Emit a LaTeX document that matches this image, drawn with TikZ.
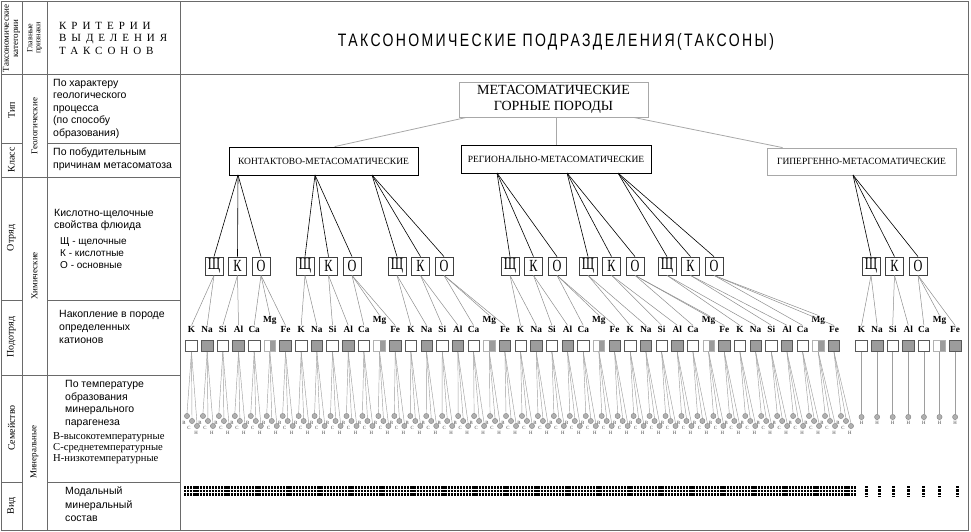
\documentclass[tikz,border=0pt]{standalone}
\usepackage{fontspec}
\setmainfont{Liberation Serif}
\setsansfont{Liberation Sans}
\newfontfamily\titlefont[FakeStretch=0.78,LetterSpace=13]{Liberation Sans}
\newfontfamily\spacedserif[LetterSpace=45]{Liberation Serif}
\newfontfamily\narrowserif[FakeStretch=0.72]{Liberation Serif}
\usetikzlibrary{calc}
\definecolor{tblc}{HTML}{6A6A6A}
\definecolor{lgray}{HTML}{A8A8A8}
\definecolor{mgray}{HTML}{9C9C9C}
\definecolor{dotc}{HTML}{B0B0B0}
\definecolor{linkc}{HTML}{8E8E8E}
\tikzset{
  tbl/.style={draw=tblc, line width=1pt},
  rot/.style={rotate=90, align=center, inner sep=0pt, font=\fontsize{10}{10.5}\selectfont},
  crit/.style={anchor=north west, align=left, inner sep=0pt, font=\sffamily\fontsize{10.5}{12.5}\selectfont},
  classbox/.style={draw, line width=0.8pt, inner sep=0pt, font=\fontsize{9.5}{10}\selectfont},
  lbox/.style={draw=black!75, line width=0.8pt, minimum width=18pt, minimum height=18pt, inner sep=0pt, font=\narrowserif\fontsize{17}{17}\selectfont},
  blk/.style={draw=black, line width=0.6pt},
  glink/.style={draw=linkc, line width=0.5pt},
  vlink/.style={draw=dotc!90!black, line width=0.45pt},
  catlab/.style={inner sep=0.3pt, font=\bfseries\fontsize{9.3}{10}\selectfont},
  cbase/.style={draw=black!65, line width=0.6pt, minimum width=11.5pt, minimum height=11.5pt, inner sep=0pt},
  wbox/.style={cbase, fill=white},
  gbox/.style={cbase, fill=mgray},
  hbox/.style={cbase, draw=black!30, path picture={\fill[mgray] (path picture bounding box.north) rectangle (path picture bounding box.south east);}},
  dot/.style={circle, draw=black!50, fill=dotc, line width=0.4pt, minimum size=5.2pt, inner sep=0pt},
  tinylab/.style={inner sep=0pt, text=black!75, font=\fontsize{4.8}{5}\selectfont},
}
\begin{document}
\begin{tikzpicture}[x=1pt,y=-1pt]
\useasboundingbox (0,0) rectangle (971,532);
% ---------- frame and table ----------
\draw[tbl] (1,2) rectangle (968,530);
\draw[tbl] (22,2) -- (22,530);
\draw[tbl] (47,2) -- (47,530);
\draw[tbl] (180,2) -- (180,530);
\draw[tbl] (1,75) -- (968,75);
\draw[tbl] (1,143) -- (22,143) (47,143) -- (180,143);
\draw[tbl] (1,177) -- (180,177);
\draw[tbl] (1,300) -- (22,300) (47,300) -- (180,300);
\draw[tbl] (1,375) -- (180,375);
\draw[tbl] (1,482) -- (22,482) (47,482) -- (180,482);
% ---------- left column texts ----------
\node[rot, font=\fontsize{9}{9.3}\selectfont] (hcat) at (11.5,38.5) {Таксономические\\категории};
\node[rot, font=\fontsize{8}{8}\selectfont] (hsig) at (34.5,38) {Главные\\признаки};
\node[anchor=north west, align=left, inner sep=0pt, font=\spacedserif\fontsize{11}{12.5}\selectfont] (hcrit) at (59,22) {КРИТЕРИИ\\ВЫДЕЛЕНИЯ\\ТАКСОНОВ};
\node[rot] (rtip) at (11.5,110) {Тип};
\node[rot] (rkl) at (11.5,160) {Класс};
\node[rot] (rotr) at (11.5,238) {Отряд};
\node[rot] (rpod) at (11.5,337) {Подотряд};
\node[rot] (rsem) at (11.5,428) {Семейство};
\node[rot] (rvid) at (11.5,506) {Вид};
\node[rot, font=\fontsize{9}{9}\selectfont] (sgeo) at (34.5,126) {Геологические};
\node[rot, font=\fontsize{9}{9}\selectfont] (schem) at (34.5,276) {Химические};
\node[rot, font=\fontsize{9}{9}\selectfont] (smin) at (34.5,452) {Минеральные};
\node[crit] (c1) at (53,79) {По характеру\\геологического\\процесса\\(по способу\\образования)};
\node[crit] (c2) at (53,148) {По побудительным\\причинам метасоматоза};
\node[crit] (c3) at (54,209) {Кислотно-щелочные\\свойства флюида};
\node[crit, font=\sffamily\fontsize{10}{12}\selectfont] (c4) at (60,237) {Щ - щелочные\\К - кислотные\\О - основные};
\node[crit, font=\sffamily\fontsize{10.5}{13}\selectfont] (c5) at (59,310) {Накопление в породе\\определенных\\катионов};
\node[crit, font=\sffamily\fontsize{10.5}{12.7}\selectfont] (c6) at (65,380) {По температуре\\образования\\минерального\\парагенеза};
\node[crit, font=\fontsize{10.6}{11}\selectfont] (c7) at (53,432) {В-высокотемпературные\\С-среднетемпературные\\Н-низкотемпературные};
\node[crit, font=\sffamily\fontsize{10.5}{13.5}\selectfont] (c8) at (65,487) {Модальный\\минеральный\\состав};
% ---------- title ----------
\node[font=\titlefont\fontsize{18}{20}\selectfont, inner sep=0pt] (title) at (556,42) {ТАКСОНОМИЧЕСКИЕ ПОДРАЗДЕЛЕНИЯ(ТАКСОНЫ)};
% ---------- type and classes ----------
\node[draw=lgray, line width=0.8pt, minimum width=189pt, minimum height=35pt, align=center, inner sep=0pt, font=\fontsize{14}{16}\selectfont] (root) at (553.5,99.5) {МЕТАСОМАТИЧЕСКИЕ\\ГОРНЫЕ ПОРОДЫ};
\node[classbox, minimum width=189pt, minimum height=28pt] (k1) at (323.5,161) {КОНТАКТОВО-МЕТАСОМАТИЧЕСКИЕ};
\node[classbox, minimum width=190pt, minimum height=28pt] (k2) at (556,159) {РЕГИОНАЛЬНО-МЕТАСОМАТИЧЕСКИЕ};
\node[classbox, draw=lgray, minimum width=189pt, minimum height=27pt] (k3) at (861.5,161.5) {ГИПЕРГЕННО-МЕТАСОМАТИЧЕСКИЕ};
\draw[draw=lgray, line width=0.8pt] ($(root.south west)+(8,0)$) -- ($(k1.north west)+(106,0)$);
\draw[draw=lgray, line width=0.8pt] (k2.north |- root.south) -- (k2.north);
\draw[draw=lgray, line width=0.8pt] ($(root.south east)+(-15,0)$) -- ($(k3.north west)+(16,0)$);
% ---------- bundle origins on class boxes ----------
\coordinate (b1) at (238,175);
\coordinate (b2) at (315,175);
\coordinate (b3) at (372,175);
\coordinate (b4) at (497,173);
\coordinate (b5) at (567,173);
\coordinate (b6) at (618,173);
\coordinate (b7) at (853,175);
% ---------- orders (Щ К О) ----------
\foreach \g/\qx in {1/214,2/305,3/397,4/510,5/588,6/667,7/871}{
  \node[lbox] (q\g-1) at (\qx,266) {Щ};
  \node[lbox] (q\g-2) at (\qx+23.5,266) {К};
  \node[lbox] (q\g-3) at (\qx+47,266) {О};
  \foreach \j in {1,2,3}{\draw[blk] (b\g) -- (q\g-\j.north);}
}
% ---------- suborders (cations) and families ----------
\foreach \g in {1,...,6}{
  \foreach \k/\lab/\s/\sty/\ly in {0/K/1/wbox/329,1/Na/1/gbox/329,2/Si/2/wbox/329,3/Al/2/gbox/329,4/Ca/3/wbox/329,5/Mg/3/hbox/320,6/Fe/3/gbox/329}{
    \pgfmathsetmacro\n{(\g-1)*7+\k}
    \pgfmathsetmacro\cx{191.5+15.67*\n}
    \pgfmathsetmacro\vx{187+15.95*\n}
    \node[catlab] (l\g-\k) at (\cx,\ly) {\lab};
    \node[\sty] (c\g-\k) at (\cx,346) {};
    \draw[glink] (q\g-\s.south) -- (l\g-\k.north);
    \node[dot] (v\g-\k-1) at (\vx,416) {};
    \node[dot] (v\g-\k-2) at (\vx+5,421) {};
    \node[dot] (v\g-\k-3) at (\vx+10,426) {};
    \node[tinylab] (t\g-\k-1) at (\vx-3,422.5) {В};
    \node[tinylab] (t\g-\k-2) at (\vx+2,428) {С};
    \node[tinylab] (t\g-\k-3) at (\vx+9,433) {Н};
    \foreach \m in {1,2,3}{\draw[vlink] (c\g-\k.south) -- (v\g-\k-\m.north);}
  }
}
\foreach \k/\lab/\s/\sty/\ly in {0/K/1/wbox/329,1/Na/1/gbox/329,2/Si/2/wbox/329,3/Al/2/gbox/329,4/Ca/3/wbox/329,5/Mg/3/hbox/320,6/Fe/3/gbox/329}{
  \pgfmathsetmacro\cx{861.5+15.6*\k}
  \node[catlab] (l7-\k) at (\cx,\ly) {\lab};
  \node[\sty] (c7-\k) at (\cx,346) {};
  \draw[glink] (q7-\s.south) -- (l7-\k.north);
  \node[dot] (v7-\k) at (\cx,417) {};
  \node[tinylab] (t7-\k) at (\cx,422.5) {Н};
  \draw[vlink] (c7-\k.south) -- (v7-\k.north);
}
% ---------- species (modal composition marks) ----------
\foreach \yy in {487.5,491,494.5}{
  \draw[black, line width=2.3pt, dash pattern=on 2.2pt off 0.9pt] (184,\yy) -- (856,\yy);
}
\foreach \xx in {866,879,893,908,923,939,957}{
  \draw[black, line width=3pt, dash pattern=on 2.4pt off 1pt] (\xx,486) -- (\xx,496.5);
}
\end{tikzpicture}
\end{document}
